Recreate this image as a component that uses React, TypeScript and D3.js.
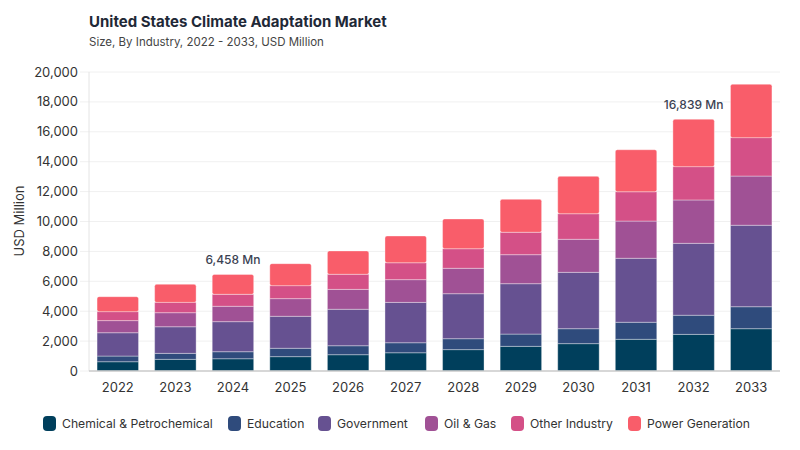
import React from 'react';
import * as d3 from 'd3';

const years = ['2022', '2023', '2024', '2025', '2026', '2027', '2028', '2029', '2030', '2031', '2032', '2033'];
const industries = ['Chemical & Petrochemical', 'Education', 'Government', 'Oil & Gas', 'Other Industry', 'Power Generation'];
const colors = ['#003f5c', '#2f4b7c', '#665191', '#a05195', '#d45087', '#f95d6a'];

const chemical = [620, 780, 820, 960, 1090, 1220, 1430, 1650, 1830, 2120, 2450, 2830];
const education = [380, 400, 470, 560, 600, 670, 730, 820, 1000, 1140, 1280, 1470];
const government = [1560, 1780, 2010, 2140, 2440, 2700, 3010, 3370, 3770, 4280, 4810, 5450];
const oilGas = [810, 940, 1030, 1180, 1330, 1520, 1700, 1940, 2210, 2490, 2900, 3290];
const otherIndustry = [600, 690, 800, 870, 1010, 1130, 1310, 1500, 1710, 1960, 2230, 2570];
const powerGeneration = [1000, 1210, 1328, 1470, 1560, 1790, 1990, 2200, 2500, 2810, 3169, 3570];

const yTicks = [0, 2000, 4000, 6000, 8000, 10000, 12000, 14000, 16000, 18000, 20000];
const annotated = ['2024', '2032'];

const FONT = 'Inter, "Noto Sans", sans-serif';

export default function App() {
  const width = 800;
  const height = 450;
  const left = 89;
  const right = 780;
  const top = 72;
  const bottom = 371;

  const series = [chemical, education, government, oilGas, otherIndustry, powerGeneration];
  const rows = years.map((y, i) => {
    const r: any = { year: y };
    industries.forEach((k, j) => (r[k] = series[j][i]));
    return r;
  });
  const stacked = d3.stack<any>().keys(industries)(rows);

  const x = d3.scaleBand().domain(years).range([left, right]).paddingInner(0.28).paddingOuter(0.14);
  const y = d3.scaleLinear().domain([0, 20000]).range([bottom, top]);
  const fmt = d3.format(',');

  const legendX = [43, 228, 318, 425, 511, 628];

  return (
    <svg width={width} height={height} style={{ position: 'absolute', left: 0, top: 0, background: '#fff' }} fontFamily={FONT}>
      <text x={89} y={27} fontSize={15} fontWeight={700} fill="#1f2937">United States Climate Adaptation Market</text>
      <text x={89} y={46} fontSize={11.5} fill="#444">Size, By Industry, 2022 - 2033, USD Million</text>

      {yTicks.map(t => (
        <g key={t}>
          <line x1={80} x2={right} y1={y(t)} y2={y(t)} stroke="#f0f0f0" strokeWidth={1} />
          <text x={78} y={y(t)} dy="0.35em" textAnchor="end" fontSize={13} fill="#333">{fmt(t)}</text>
        </g>
      ))}
      <line x1={left} x2={left} y1={top} y2={bottom} stroke="#e4e4e4" strokeWidth={1} />
      <text transform={`translate(24,221) rotate(-90)`} textAnchor="middle" fontSize={13} fill="#333">USD Million</text>

      {stacked.map((s, si) => (
        <g key={s.key}>
          {s.map((d, i) => {
            const bx = x(years[i])!;
            const bw = x.bandwidth();
            const y0 = y(d[0]);
            const y1 = y(d[1]);
            return (
              <rect key={i} x={bx} y={y1} width={bw} height={y0 - y1} fill={colors[si]}
                stroke="rgba(255,255,255,0.35)" strokeWidth={1} rx={si === industries.length - 1 ? 2 : 0} />
            );
          })}
        </g>
      ))}

      <line x1={left} x2={right} y1={bottom} y2={bottom} stroke="#ccc" strokeWidth={1.5} />

      {years.map(yr => (
        <text key={yr} x={x(yr)! + x.bandwidth() / 2} y={392} textAnchor="middle" fontSize={13} fill="#333">{yr}</text>
      ))}

      {annotated.map(yr => {
        const i = years.indexOf(yr);
        const total = series.reduce((a, s) => a + s[i], 0);
        return (
          <text key={yr} x={x(yr)! + x.bandwidth() / 2} y={y(total) - 10} textAnchor="middle" fontSize={12} fontWeight={500} fill="#3b4252">
            {fmt(total)} Mn
          </text>
        );
      })}

      {industries.map((k, i) => (
        <g key={k} transform={`translate(${legendX[i]},0)`}>
          <rect x={0} y={416} width={13} height={15} rx={4} fill={colors[i]} />
          <text x={19} y={423.5} dy="0.35em" fontSize={12.2} fill="#333">{k}</text>
        </g>
      ))}
    </svg>
  );
}
